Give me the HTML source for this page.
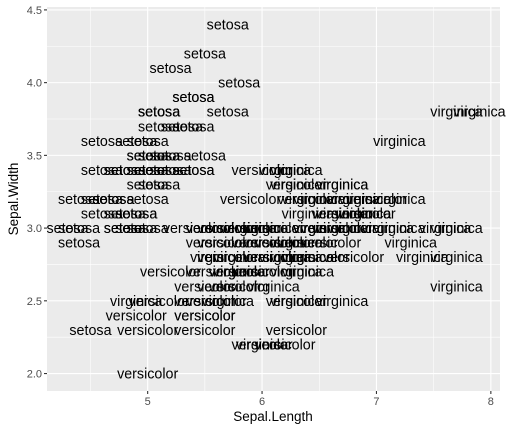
<!DOCTYPE html>
<html><head><meta charset="utf-8"><style>
html,body{margin:0;padding:0;background:#fff;}
svg{display:block;font-family:"Liberation Sans",Arial,sans-serif;}
</style></head><body>
<svg id="chart" width="508" height="432" viewBox="0 0 508 432" xmlns="http://www.w3.org/2000/svg">
<rect x="0" y="0" width="508" height="432" fill="#fff"/>
<rect id="panel" x="47" y="7" width="453" height="384" fill="#EBEBEB"/>
<g id="grid"></g>
<g id="marks"></g>
<g id="axes"></g>
<text x="273" y="421" text-anchor="middle" font-size="13.5" fill="#000">Sepal.Length</text>
<text transform="translate(18,199) rotate(-90)" text-anchor="middle" font-size="13.5" fill="#000">Sepal.Width</text>
</svg>
<script>
const species = ["setosa","versicolor","virginica"];
const sepalLength = [
5.1,4.9,4.7,4.6,5.0,5.4,4.6,5.0,4.4,4.9,5.4,4.8,4.8,4.3,5.8,5.7,5.4,5.1,5.7,5.1,5.4,5.1,4.6,5.1,4.8,5.0,5.0,5.2,5.2,4.7,4.8,5.4,5.2,5.5,4.9,5.0,5.5,4.9,4.4,5.1,5.0,4.5,4.4,5.0,5.1,4.8,5.1,4.6,5.3,5.0,
7.0,6.4,6.9,5.5,6.5,5.7,6.3,4.9,6.6,5.2,5.0,5.9,6.0,6.1,5.6,6.7,5.6,5.8,6.2,5.6,5.9,6.1,6.3,6.1,6.4,6.6,6.8,6.7,6.0,5.7,5.5,5.5,5.8,6.0,5.4,6.0,6.7,6.3,5.6,5.5,5.5,6.1,5.8,5.0,5.6,5.7,5.7,6.2,5.1,5.7,
6.3,5.8,7.1,6.3,6.5,7.6,4.9,7.3,6.7,7.2,6.5,6.4,6.8,5.7,5.8,6.4,6.5,7.7,7.7,6.0,6.9,5.6,7.7,6.3,6.7,7.2,6.2,6.1,6.4,7.2,7.4,7.9,6.4,6.3,6.1,7.7,6.3,6.4,6.0,6.9,6.7,6.9,5.8,6.8,6.7,6.7,6.3,6.5,6.2,5.9];
const sepalWidth = [
3.5,3.0,3.2,3.1,3.6,3.9,3.4,3.4,2.9,3.1,3.7,3.4,3.0,3.0,4.0,4.4,3.9,3.5,3.8,3.8,3.4,3.7,3.6,3.3,3.4,3.0,3.4,3.5,3.4,3.2,3.1,3.4,4.1,4.2,3.1,3.2,3.5,3.6,3.0,3.4,3.5,2.3,3.2,3.5,3.8,3.0,3.8,3.2,3.7,3.3,
3.2,3.2,3.1,2.3,2.8,2.8,3.3,2.4,2.9,2.7,2.0,3.0,2.2,2.9,2.9,3.1,3.0,2.7,2.2,2.5,3.2,2.8,2.5,2.8,2.9,3.0,2.8,3.0,2.9,2.6,2.4,2.4,2.7,2.7,3.0,3.4,3.1,2.3,3.0,2.5,2.6,3.0,2.6,2.3,2.7,3.0,2.9,2.9,2.5,2.8,
3.3,2.7,3.0,2.9,3.0,3.0,2.5,2.9,2.5,3.6,3.2,2.7,3.0,2.5,2.8,3.2,3.0,3.8,2.6,2.2,3.2,2.8,2.8,2.7,3.3,3.2,2.8,3.0,2.8,3.0,2.8,3.8,2.8,2.8,2.6,3.0,3.4,3.1,3.0,3.1,3.1,3.1,2.7,3.2,3.3,3.0,2.5,3.0,3.4,3.0];
const xTicks = [5,6,7,8];
const yTicks = [2.0,2.5,3.0,3.5,4.0,4.5];
const xMinor = [4.5,5.5,6.5,7.5];
const yMinor = [2.25,2.75,3.25,3.75,4.25];

const NS="http://www.w3.org/2000/svg";
const PL=47,PR=500,PT=7,PB=391;
const xDom=[4.12,8.08], yDom=[1.88,4.52];
const sx=v=>PL+(v-xDom[0])/(xDom[1]-xDom[0])*(PR-PL);
const sy=v=>PB-(v-yDom[0])/(yDom[1]-yDom[0])*(PB-PT);
function mk(tag,attrs,parent){const e=document.createElementNS(NS,tag);for(const k in attrs)e.setAttribute(k,attrs[k]);parent.appendChild(e);return e;}
const grid=document.getElementById('grid'),marks=document.getElementById('marks'),axes=document.getElementById('axes');
xMinor.forEach(v=>{const l=mk('line',{x1:sx(v),x2:sx(v),y1:PT,y2:PB,stroke:'#fff','stroke-width':0.55},grid);

});
yMinor.forEach(v=>{const l=mk('line',{x1:PL,x2:PR,y1:sy(v),y2:sy(v),stroke:'#fff','stroke-width':0.55},grid);

});
xTicks.forEach(v=>{const l=mk('line',{x1:sx(v),x2:sx(v),y1:PT,y2:PB,stroke:'#fff','stroke-width':1.1},grid);


const t=mk('line',{x1:sx(v),x2:sx(v),y1:PB,y2:PB+3,stroke:'#333','stroke-width':1.1},axes);


const tx=mk('text',{x:sx(v),y:PB+14,'text-anchor':'middle','font-size':11,fill:'#4D4D4D'},axes);tx.textContent=String(v);

});
yTicks.forEach(v=>{const l=mk('line',{x1:PL,x2:PR,y1:sy(v),y2:sy(v),stroke:'#fff','stroke-width':1.1},grid);


const t=mk('line',{x1:PL-3,x2:PL,y1:sy(v),y2:sy(v),stroke:'#333','stroke-width':1.1},axes);


const tx=mk('text',{x:PL-5,y:sy(v)+4,'text-anchor':'end','font-size':11,fill:'#4D4D4D'},axes);tx.textContent=v.toFixed(1);

});
for(let i=0;i<sepalLength.length;i++){
 const t=mk('text',{x:sx(sepalLength[i]),y:sy(sepalWidth[i])+5,'text-anchor':'middle','font-size':14.3,fill:'#000'},marks);
 t.textContent=species[Math.floor(i/50)];
 
 
}
</script>
</body></html>
